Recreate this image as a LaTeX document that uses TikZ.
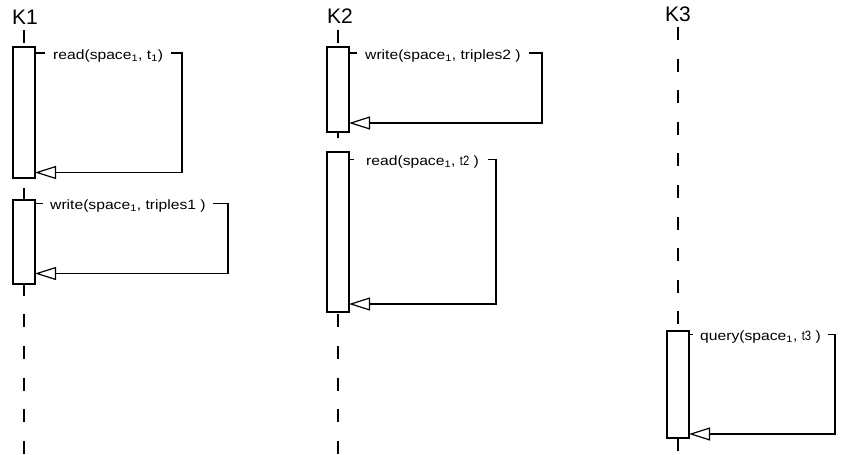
\documentclass[tikz,border=0pt]{standalone}
\usepackage{fontspec}
\setmainfont{Liberation Sans}
\usetikzlibrary{arrows.meta}
\tikzset{
  lbl/.style={font=\fontsize{13.5}{15}\selectfont, inner sep=0pt, anchor=base west},
  klbl/.style={font=\fontsize{21}{24}\selectfont, inner sep=0pt, anchor=base},
  act/.style={draw, fill=white, minimum width=22pt, inner sep=0pt, outer sep=0pt, line width=1.2pt},
  lifeline/.style={line width=1.2pt, dash pattern=on 13pt off 18.6pt},
  msg/.style={line width=1.2pt},
  ret/.style={line width=1.2pt, -{Triangle[open, length=21pt, width=13pt, line width=1.2pt]}},
}
\newcommand{\narrowt}[1]{\scalebox{0.72}[1]{#1}}
\newcommand{\widetxt}[1]{\scalebox{1.16}[1]{#1}}
\begin{document}
\begin{tikzpicture}[x=1pt,y=-1pt]
\useasboundingbox (0,0) rectangle (841,455);

% participants
\node[klbl] (K1) at (25,24) {K1};
\node[klbl] (K2) at (340,23.5) {K2};
\node[klbl] (K3) at (678,21.5) {K3};

% lifelines
\coordinate (k1t) at (24,30);  \coordinate (k1b) at (24,455);
\coordinate (k2t) at (338,30); \coordinate (k2b) at (338,455);
\coordinate (k3t) at (678,27); \coordinate (k3b) at (678,455);
\draw[lifeline] (k1t) -- (k1b);
\draw[lifeline] (k2t) -- (k2b);
\draw[lifeline] (k3t) -- (k3b);

% activation boxes
\node[act, minimum height=131pt] (a1) at (24,112.5) {};
\node[act, minimum height=84pt]  (a2) at (24,242) {};
\node[act, minimum height=85pt]  (b1) at (338,89.5) {};
\node[act, minimum height=160pt] (b2) at (338,232) {};
\node[act, minimum height=107pt] (c1) at (678,384.5) {};

% message 1: K1 read
\node[lbl] (l1) at (53,59) {\widetxt{read(space\textsubscript{1}, t\textsubscript{1})}};
\coordinate (r1) at (182,53); \coordinate (r1b) at (182,172.5);
\draw[msg] (a1.east |- r1) -- ([xshift=-8pt]l1.west |- r1);
\draw[ret] ([xshift=8pt]l1.east |- r1) -- (r1) -- (r1b) -- (a1.east |- r1b);

% message 2: K1 write
\node[lbl] (l2) at (50,209.5) {\widetxt{write(space\textsubscript{1}, triples1 )}};
\coordinate (r2) at (228,203.5); \coordinate (r2b) at (228,273.5);
\draw[msg] (a2.east |- r2) -- ([xshift=-7pt]l2.west |- r2);
\draw[ret] ([xshift=7pt]l2.east |- r2) -- (r2) -- (r2b) -- (a2.east |- r2b);

% message 3: K2 write
\node[lbl] (l3) at (365,59) {\widetxt{write(space\textsubscript{1}, triples2 )}};
\coordinate (r3) at (542,53); \coordinate (r3b) at (542,123);
\draw[msg] (b1.east |- r3) -- ([xshift=-8pt]l3.west |- r3);
\draw[ret] ([xshift=8pt]l3.east |- r3) -- (r3) -- (r3b) -- (b1.east |- r3b);

% message 4: K2 read
\node[lbl] (l4) at (366,165.5) {\widetxt{read(space\textsubscript{1}, \narrowt{t2} )}};
\coordinate (r4) at (496,159.5); \coordinate (r4b) at (496,304);
\draw[msg] (b2.east |- r4) -- ([xshift=-12pt]l4.west |- r4);
\draw[ret] ([xshift=9pt]l4.east |- r4) -- (r4) -- (r4b) -- (b2.east |- r4b);

% message 5: K3 query
\node[lbl] (l5) at (700,340.5) {\widetxt{query(space\textsubscript{1}, \narrowt{t3} )}};
\coordinate (r5) at (835,334.5); \coordinate (r5b) at (835,434);
\draw[msg] (c1.east |- r5) -- ([xshift=-7pt]l5.west |- r5);
\draw[ret] ([xshift=7pt]l5.east |- r5) -- (r5) -- (r5b) -- (c1.east |- r5b);
\end{tikzpicture}
\end{document}
